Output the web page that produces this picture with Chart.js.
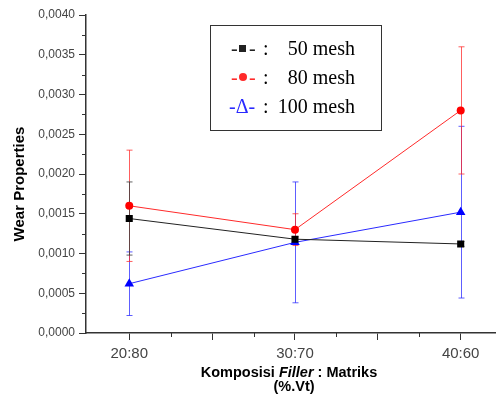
<!DOCTYPE html>
<html>
<head>
<meta charset="utf-8">
<script src="https://cdn.jsdelivr.net/npm/chart.js@4"></script>
<style>
html,body{margin:0;padding:0;background:#fff;}
canvas{display:block;}
</style>
</head>
<body>
<canvas id="c" width="501" height="401"></canvas>
<script>
// ---- data ----
const categories = [20, 30, 40];
const categoryLabels = ['20:80', '30:70', '40:60'];
const mesh50 = [0.00144, 0.00118, 0.00112];
const err50 = [0.00046, 0.00003, 0.00003];
const mesh80 = [0.0016, 0.0013, 0.0028];
const err80 = [0.0007, 0.0002, 0.0008];
const mesh100 = [0.00062, 0.00114, 0.00152];
const err100 = [0.0004, 0.00076, 0.00108];
const yTickValues = [0, 0.0005, 0.001, 0.0015, 0.002, 0.0025, 0.003, 0.0035, 0.004];
const yTickLabels = ['0,0000', '0,0005', '0,0010', '0,0015', '0,0020', '0,0025', '0,0030', '0,0035', '0,0040'];
const xTickValues = [20, 25, 30, 35, 40];
const xMinorTicks = [22.5, 27.5, 32.5, 37.5];
const legendLabels = ['50 mesh', '80 mesh', '100 mesh'];
const yTitle = 'Wear Properties';
const xTitleParts = ['Komposisi ', 'Filler', ' : Matriks'];
const xTitleLine2 = '(%.Vt)';

const colors = ['#222222', '#ff2a2a', '#2a2aff'];
const errColors = ['rgba(60,60,60,0.8)', 'rgba(255,40,40,0.75)', 'rgba(40,40,255,0.75)'];
const errs = [err50, err80, err100];

function pts(vals){ return categories.map((c,i)=>({x:c, y:vals[i]})); }

const errorBarPlugin = {
  id:'errorBars',
  beforeDatasetsDraw(chart){
    const ctx = chart.ctx, xs = chart.scales.x, ys = chart.scales.y;
    ctx.save();
    for (let d = chart.data.datasets.length-1; d >= 0; d--) {
      const ds = chart.data.datasets[d];
      ctx.strokeStyle = errColors[d];
      ctx.lineWidth = 1;
      ds.data.forEach((p,i)=>{
        const e = errs[d][i];
        const x = Math.round(xs.getPixelForValue(p.x)) + 0.5;
        const yt = ys.getPixelForValue(p.y + e);
        const yb = ys.getPixelForValue(p.y - e);
        ctx.beginPath();
        ctx.moveTo(x, yt); ctx.lineTo(x, yb);
        ctx.moveTo(x-3, yt); ctx.lineTo(x+3, yt);
        ctx.moveTo(x-3, yb); ctx.lineTo(x+3, yb);
        ctx.stroke();
      });
    }
    ctx.restore();
  }
};

const decorPlugin = {
  id:'decor',
  afterDraw(chart){
    const ctx = chart.ctx, xs = chart.scales.x, ys = chart.scales.y, ca = chart.chartArea;
    ctx.save();
    // minor ticks
    ctx.strokeStyle = '#333'; ctx.lineWidth = 1;
    ctx.beginPath();
    for (let i = 0; i < yTickValues.length-1; i++) {
      const y = Math.round((ys.getPixelForValue(yTickValues[i]) + ys.getPixelForValue(yTickValues[i+1]))/2) + 0.5;
      ctx.moveTo(ca.left - 4, y); ctx.lineTo(ca.left, y);
    }
    xMinorTicks.forEach(v=>{
      const x = Math.round(xs.getPixelForValue(v)) + 0.5;
      ctx.moveTo(x, ca.bottom); ctx.lineTo(x, ca.bottom + 4);
    });
    ctx.stroke();

    // y title
    ctx.fillStyle = '#000';
    ctx.font = 'bold 15px "Liberation Sans", Arial, sans-serif';
    ctx.textAlign = 'center'; ctx.textBaseline = 'middle';
    ctx.save();
    ctx.translate(20, 184);
    ctx.rotate(-Math.PI/2);
    ctx.fillText(yTitle, 0, 0);
    ctx.restore();

    // x title (mixed italic)
    const fonts = ['bold 14.5px "Liberation Sans", Arial, sans-serif',
                   'italic bold 14.5px "Liberation Sans", Arial, sans-serif',
                   'bold 14.5px "Liberation Sans", Arial, sans-serif'];
    let widths = xTitleParts.map((t,i)=>{ ctx.font = fonts[i]; return ctx.measureText(t).width; });
    const total = widths.reduce((a,b)=>a+b,0);
    let x = 289 - total/2;
    ctx.textAlign = 'left'; ctx.textBaseline = 'alphabetic';
    xTitleParts.forEach((t,i)=>{ ctx.font = fonts[i]; ctx.fillText(t, x, 377); x += widths[i]; });
    ctx.font = fonts[0]; ctx.textAlign = 'center';
    ctx.fillText(xTitleLine2, 294, 391);

    // legend box
    ctx.strokeStyle = '#333'; ctx.lineWidth = 1;
    ctx.strokeRect(210.5, 25.5, 171, 105);
    const rowsBase = [55, 83.5, 112.5];
    ctx.font = '20px "Liberation Serif", "Times New Roman", serif';
    rowsBase.forEach((b,i)=>{
      const c = colors[i];
      ctx.fillStyle = c;
      ctx.textAlign = 'left';
      if (i < 2) {
        ctx.fillText('-', 231, b);
        ctx.fillText('-', 249, b);
        const cy = b - 6.5;
        if (i === 0) { ctx.fillRect(239, cy-3.5, 7, 7); }
        else { ctx.beginPath(); ctx.arc(243, cy, 4, 0, Math.PI*2); ctx.fill(); }
      } else {
        ctx.fillText('-\u0394-', 229, b);
      }
      ctx.fillStyle = '#000';
      ctx.fillText(':', 263, b);
      ctx.textAlign = 'right';
      ctx.fillText(legendLabels[i], 355, b);
    });
    ctx.restore();
  }
};

new Chart(document.getElementById('c'), {
  type:'scatter',
  data:{
    datasets:[
      {label:legendLabels[0], data:pts(mesh50), showLine:true, borderColor:colors[0], backgroundColor:'#000', borderWidth:1,
       pointStyle:'rect', pointRadius:5, pointBorderWidth:0},
      {label:legendLabels[1], data:pts(mesh80), showLine:true, borderColor:colors[1], backgroundColor:'#ff0000', borderWidth:1,
       pointStyle:'circle', pointRadius:4, pointBorderWidth:0},
      {label:legendLabels[2], data:pts(mesh100), showLine:true, borderColor:colors[2], backgroundColor:'#0000ff', borderWidth:1,
       pointStyle:'triangle', pointRadius:5.5, pointBorderWidth:0}
    ]
  },
  options:{
    responsive:false, animation:false,
    layout:{padding:{top:15, left:0, right:0, bottom:0}},
    plugins:{legend:{display:false}, tooltip:{enabled:false}},
    scales:{
      x:{
        type:'linear', min:17.39, max:42.1,
        afterBuildTicks:(s)=>{ s.ticks = xTickValues.map(v=>({value:v})); },
        afterFit:(s)=>{ s.height = 68; },
        ticks:{autoSkip:false, maxRotation:0, padding:5, color:'#444',
          font:{family:'"Liberation Sans", Arial, sans-serif', size:15},
          callback:(v)=>{ const k = categories.indexOf(v); return k >= 0 ? categoryLabels[k] : ''; }},
        grid:{drawOnChartArea:false, tickLength:7, tickColor:'#333'},
        border:{color:'#333', width:1.5}
      },
      y:{
        type:'linear', min:0, max:0.004,
        afterBuildTicks:(s)=>{ s.ticks = yTickValues.map(v=>({value:v})); },
        afterFit:(s)=>{ s.width = 86; },
        ticks:{autoSkip:false, padding:4, color:'#444',
          font:{family:'"Liberation Sans", Arial, sans-serif', size:12},
          callback:(v)=>{ const k = yTickValues.findIndex(t=>Math.abs(t-v)<1e-9); return k >= 0 ? yTickLabels[k] : ''; }},
        grid:{drawOnChartArea:false, tickLength:7, tickColor:'#333'},
        border:{color:'#333', width:1.5}
      }
    }
  },
  plugins:[errorBarPlugin, decorPlugin]
});
</script>
</body>
</html>
